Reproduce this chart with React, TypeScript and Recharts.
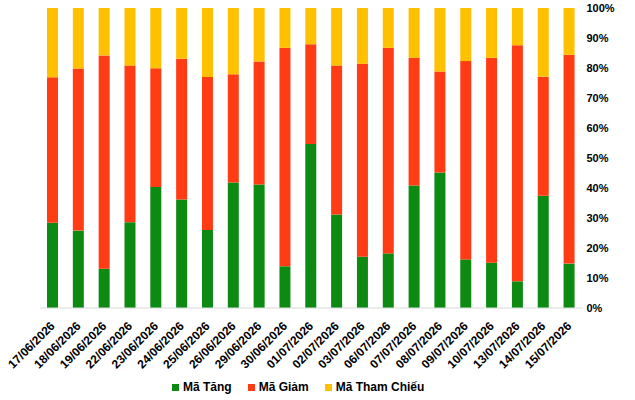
import { BarChart, Bar, XAxis, YAxis, Legend } from 'recharts'

const dates = [
  '17/06/2026', '18/06/2026', '19/06/2026', '22/06/2026', '23/06/2026', '24/06/2026', '25/06/2026',
  '26/06/2026', '29/06/2026', '30/06/2026', '01/07/2026', '02/07/2026', '03/07/2026', '06/07/2026',
  '07/07/2026', '08/07/2026', '09/07/2026', '10/07/2026', '13/07/2026', '14/07/2026', '15/07/2026',
]

// % of tickers per session
const upPct = [28.4, 25.8, 13.1, 28.6, 40.3, 36.2, 26.0, 41.8, 41.2, 13.9, 54.7, 31.2, 17.1, 18.2, 40.8, 45.2, 16.2, 15.1, 8.9, 37.4, 14.8]
const downPct = [48.5, 54.0, 71.1, 52.2, 39.6, 46.9, 51.0, 36.1, 41.0, 72.8, 33.2, 49.6, 64.3, 68.5, 42.6, 33.6, 66.1, 68.3, 78.7, 39.7, 69.6]
const flatPct = [23.1, 20.2, 15.8, 19.2, 20.1, 16.9, 23.0, 22.1, 17.8, 13.3, 12.1, 19.2, 18.6, 13.3, 16.6, 21.2, 17.7, 16.6, 12.4, 22.9, 15.6]

const yTicks = [0, 10, 20, 30, 40, 50, 60, 70, 80, 90, 100]

const SERIES = [
  { key: 'up', name: 'Mã Tăng', color: '#0c8a12' },
  { key: 'down', name: 'Mã Giảm', color: '#ff3c14' },
  { key: 'flat', name: 'Mã Tham Chiếu', color: '#ffc000' },
]

const data = dates.map((d, i) => ({ date: d, up: upPct[i], down: downPct[i], flat: flatPct[i] }))

const FONT = '"Liberation Sans", Arial, sans-serif'

function DateTick({ x, y, payload }: any) {
  return (
    <g transform={`translate(${x - 3},${y + 5})`}>
      <text
        x={0}
        y={0}
        dy={8}
        textAnchor="end"
        transform="rotate(-45)"
        fontSize={12}
        fontWeight="bold"
        fontFamily={FONT}
        fill="#000"
      >
        {payload.value}
      </text>
    </g>
  )
}

function LegendBox() {
  return (
    <div style={{ display: 'flex', justifyContent: 'flex-start', paddingLeft: 172, fontFamily: FONT, fontSize: 12, fontWeight: 'bold', color: '#000' }}>
      {SERIES.map(s => (
        <div key={s.key} style={{ display: 'flex', alignItems: 'center', marginRight: 16 }}>
          <span style={{ width: 7, height: 7, background: s.color, marginRight: 4, display: 'inline-block' }} />
          <span>{s.name}</span>
        </div>
      ))}
    </div>
  )
}

export default function App() {
  return (
    <div style={{ position: 'absolute', left: 0, top: 0, background: '#fff' }}>
      <BarChart width={635} height={400} data={data} margin={{ top: 8, right: 0, bottom: 0, left: 40 }}>
        <XAxis
          dataKey="date"
          interval={0}
          tick={<DateTick />}
          tickLine={false}
          axisLine={{ stroke: '#d9d9d9' }}
          height={72}
        />
        <YAxis
          orientation="right"
          domain={[0, 100]}
          ticks={yTicks}
          tickFormatter={v => `${v}%`}
          axisLine={false}
          tickLine={false}
          tickSize={2}
          tickMargin={2}
          width={52.6}
          tick={{ fontSize: 11, fontWeight: 'bold', fontFamily: FONT, fill: '#000', textAnchor: 'start' }}
        />
        <Legend
          height={20}
          verticalAlign="bottom"
          wrapperStyle={{ left: 0, width: 635 }}
          content={<LegendBox />}
        />
        {SERIES.map(s => (
          <Bar key={s.key} dataKey={s.key} name={s.name} stackId="a" fill={s.color} barSize={11} isAnimationActive={false} />
        ))}
      </BarChart>
    </div>
  )
}
